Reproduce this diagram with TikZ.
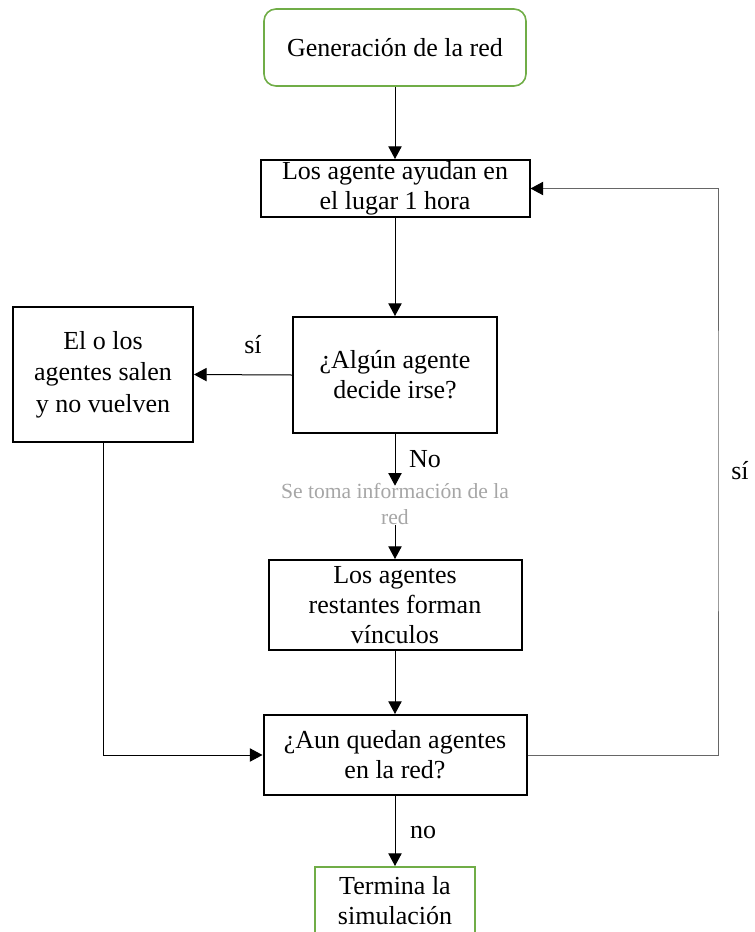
\documentclass[tikz,border=0pt]{standalone}
\usepackage{fontspec}
\setmainfont{Liberation Serif}
\usetikzlibrary{arrows.meta}
\usetikzlibrary{positioning}
\definecolor{verde}{RGB}{112,173,71}
\definecolor{gris}{RGB}{166,166,166}

\begin{document}
\begin{tikzpicture}[x=0.75pt,y=-0.75pt,font=\fontsize{19.5}{22.5}\selectfont]
\useasboundingbox (0,0) rectangle (754,932);
\begin{scope}[every node/.style={draw,line width=1.5pt,align=center,inner sep=0pt}]
    \node[draw=verde,line width=1.2pt,rounded corners=9pt,minimum width=196.5pt,minimum height=57.75pt] (G) at (395,47.5) {Generación de la red};
    \node[minimum width=201.75pt,minimum height=42.75pt] (A) at (395,188.5) {Los agente ayudan en\\el lugar 1 hora};
    \node[minimum width=153pt,minimum height=87pt] (D) at (395,375) {¿Algún agente\\decide irse?};
    \node[minimum width=135pt,minimum height=101.25pt,font=\fontsize{19.5}{23.5}\selectfont] (S) at (103,374.5) {El o los\\agentes salen\\y no vuelven};
    \node[minimum width=189.75pt,minimum height=67.5pt] (V) at (395,605) {Los agentes\\restantes forman\\vínculos};
    \node[minimum width=197.25pt,minimum height=60pt] (Q) at (395,755) {¿Aun quedan agentes\\en la red?};
    \node[draw=verde,line width=1.2pt,minimum width=120pt,minimum height=51pt,anchor=north] (T) at (395,866) {Termina la\\simulación};
\end{scope}

\node[draw=none,align=center,text=gris,font=\fontsize{16.2}{19.5}\selectfont,inner sep=0pt] (I) at (395,504) {Se toma información de la\\red};
\coordinate (R) at (718,470);

\begin{scope}[>={Triangle[length=9.5pt,width=10pt,black]},
              every node/.style={inner sep=0pt},
              every edge/.style={draw,line width=0.75pt}]
    \path [->] (G.south) edge (A.north);
    \path [->] (A.south) edge (D.north);
    \path [->] (D.west) edge (S.east);
    \path [->] (D.south) edge ([yshift=-2pt]I.north);
    \path [->] (I.south) edge (V.north);
    \path [->] (V.south) edge (Q.north);
    \path [->] (Q.south) edge (T.north);
    \draw [->,line width=0.75pt] (S.south) |- (Q.west);
    \draw [->,line width=0.75pt,draw=black!60] (Q.east) -| (R) |- (A.east);
    \node (si1) at (253,345) {sí};
    \node (no1) at (425,459) {No};
    \node (si2) at (740,471) {sí};
    \node (no2) at (423,832) {no};
\end{scope}
\end{tikzpicture}
\end{document}
